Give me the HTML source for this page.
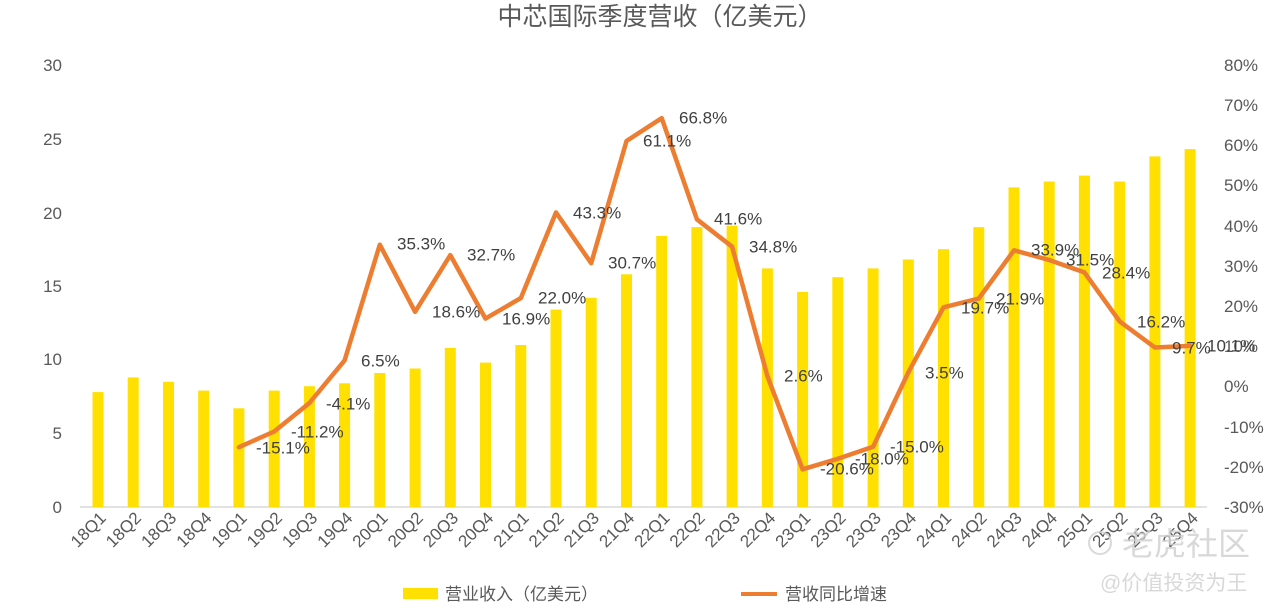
<!DOCTYPE html>
<html><head><meta charset="utf-8"><style>
html,body{margin:0;padding:0;background:#fff;}
svg{display:block;font-family:"Liberation Sans","Noto Sans CJK SC",sans-serif;}
</style></head><body>
<svg width="1281" height="612" viewBox="0 0 1281 612" xmlns="http://www.w3.org/2000/svg">
<text x="660" y="25" text-anchor="middle" font-size="25" fill="#595959">中芯国际季度营收（亿美元）</text>
<g font-size="17" fill="#595959" text-anchor="end">
<text x="62" y="513">0</text><text x="62" y="439">5</text><text x="62" y="365">10</text><text x="62" y="292">15</text><text x="62" y="219">20</text><text x="62" y="145">25</text><text x="62" y="71">30</text>
</g>
<g font-size="17" fill="#595959" text-anchor="start">
<text x="1224" y="71">80%</text><text x="1224" y="111">70%</text><text x="1224" y="151">60%</text><text x="1224" y="191">50%</text><text x="1224" y="232">40%</text><text x="1224" y="272">30%</text><text x="1224" y="312">20%</text><text x="1224" y="352">10%</text><text x="1224" y="392">0%</text><text x="1224" y="433">-10%</text><text x="1224" y="473">-20%</text><text x="1224" y="513">-30%</text>
</g>
<line x1="80" y1="507" x2="1207" y2="507" stroke="#d9d9d9" stroke-width="1.5"/>
<g fill="#FFE000">
<rect x="92.5" y="392.1" width="11" height="114.9"/>
<rect x="127.7" y="377.4" width="11" height="129.6"/>
<rect x="163" y="381.8" width="11" height="125.2"/>
<rect x="198.2" y="390.6" width="11" height="116.4"/>
<rect x="233.4" y="408.3" width="11" height="98.7"/>
<rect x="268.7" y="390.6" width="11" height="116.4"/>
<rect x="303.9" y="386.2" width="11" height="120.8"/>
<rect x="339.1" y="383.3" width="11" height="123.7"/>
<rect x="374.3" y="373" width="11" height="134"/>
<rect x="409.6" y="368.5" width="11" height="138.5"/>
<rect x="444.8" y="347.9" width="11" height="159.1"/>
<rect x="480" y="362.6" width="11" height="144.4"/>
<rect x="515.3" y="345" width="11" height="162"/>
<rect x="550.5" y="309.6" width="11" height="197.4"/>
<rect x="585.7" y="297.8" width="11" height="209.2"/>
<rect x="621" y="274.3" width="11" height="232.7"/>
<rect x="656.2" y="236" width="11" height="271"/>
<rect x="691.4" y="227.1" width="11" height="279.9"/>
<rect x="726.6" y="225.7" width="11" height="281.3"/>
<rect x="761.9" y="268.4" width="11" height="238.6"/>
<rect x="797.1" y="291.9" width="11" height="215.1"/>
<rect x="832.3" y="277.2" width="11" height="229.8"/>
<rect x="867.6" y="268.4" width="11" height="238.6"/>
<rect x="902.8" y="259.5" width="11" height="247.5"/>
<rect x="938" y="249.2" width="11" height="257.8"/>
<rect x="973.3" y="227.1" width="11" height="279.9"/>
<rect x="1008.5" y="187.4" width="11" height="319.6"/>
<rect x="1043.7" y="181.5" width="11" height="325.5"/>
<rect x="1078.9" y="175.6" width="11" height="331.4"/>
<rect x="1114.2" y="181.5" width="11" height="325.5"/>
<rect x="1149.4" y="156.4" width="11" height="350.6"/>
<rect x="1184.6" y="149.1" width="11" height="357.9"/>
</g>
<polyline fill="none" stroke="#ED7D31" stroke-width="4.5" stroke-linejoin="round" stroke-linecap="round" points="238.9,447.2 274.2,431.5 309.4,403 344.6,360.4 379.8,244.7 415.1,311.8 450.3,255.1 485.5,318.6 520.8,298.1 556,212.5 591.2,263.2 626.5,141 661.7,118.1 696.9,219.3 732.1,246.7 767.4,376.1 802.6,469.3 837.8,458.8 873.1,446.8 908.3,372.4 943.5,307.3 978.8,298.5 1014,250.3 1049.2,260 1084.4,272.4 1119.7,321.4 1154.9,347.5 1190.1,345.9"/>
<g font-size="17" fill="#404040" dominant-baseline="middle">
<text x="256" y="449">-15.1%</text>
<text x="291" y="433">-11.2%</text>
<text x="326" y="405">-4.1%</text>
<text x="361" y="362">6.5%</text>
<text x="397" y="245">35.3%</text>
<text x="432" y="313">18.6%</text>
<text x="467" y="256">32.7%</text>
<text x="502" y="320">16.9%</text>
<text x="538" y="299">22.0%</text>
<text x="573" y="214">43.3%</text>
<text x="608" y="264">30.7%</text>
<text x="643" y="142">61.1%</text>
<text x="679" y="119">66.8%</text>
<text x="714" y="220">41.6%</text>
<text x="749" y="248">34.8%</text>
<text x="784" y="377">2.6%</text>
<text x="820" y="470">-20.6%</text>
<text x="855" y="460">-18.0%</text>
<text x="890" y="448">-15.0%</text>
<text x="925" y="374">3.5%</text>
<text x="961" y="309">19.7%</text>
<text x="996" y="300">21.9%</text>
<text x="1031" y="251">33.9%</text>
<text x="1066" y="261">31.5%</text>
<text x="1102" y="274">28.4%</text>
<text x="1137" y="323">16.2%</text>
<text x="1172" y="349">9.7%</text>
<text x="1207" y="347">10.1%</text>
</g>
<g font-size="17" fill="#595959" text-anchor="end">
<text transform="translate(107,519) rotate(-45)">18Q1</text>
<text transform="translate(142.2,519) rotate(-45)">18Q2</text>
<text transform="translate(177.5,519) rotate(-45)">18Q3</text>
<text transform="translate(212.7,519) rotate(-45)">18Q4</text>
<text transform="translate(247.9,519) rotate(-45)">19Q1</text>
<text transform="translate(283.2,519) rotate(-45)">19Q2</text>
<text transform="translate(318.4,519) rotate(-45)">19Q3</text>
<text transform="translate(353.6,519) rotate(-45)">19Q4</text>
<text transform="translate(388.8,519) rotate(-45)">20Q1</text>
<text transform="translate(424.1,519) rotate(-45)">20Q2</text>
<text transform="translate(459.3,519) rotate(-45)">20Q3</text>
<text transform="translate(494.5,519) rotate(-45)">20Q4</text>
<text transform="translate(529.8,519) rotate(-45)">21Q1</text>
<text transform="translate(565,519) rotate(-45)">21Q2</text>
<text transform="translate(600.2,519) rotate(-45)">21Q3</text>
<text transform="translate(635.5,519) rotate(-45)">21Q4</text>
<text transform="translate(670.7,519) rotate(-45)">22Q1</text>
<text transform="translate(705.9,519) rotate(-45)">22Q2</text>
<text transform="translate(741.1,519) rotate(-45)">22Q3</text>
<text transform="translate(776.4,519) rotate(-45)">22Q4</text>
<text transform="translate(811.6,519) rotate(-45)">23Q1</text>
<text transform="translate(846.8,519) rotate(-45)">23Q2</text>
<text transform="translate(882.1,519) rotate(-45)">23Q3</text>
<text transform="translate(917.3,519) rotate(-45)">23Q4</text>
<text transform="translate(952.5,519) rotate(-45)">24Q1</text>
<text transform="translate(987.8,519) rotate(-45)">24Q2</text>
<text transform="translate(1023,519) rotate(-45)">24Q3</text>
<text transform="translate(1058.2,519) rotate(-45)">24Q4</text>
<text transform="translate(1093.4,519) rotate(-45)">25Q1</text>
<text transform="translate(1128.7,519) rotate(-45)">25Q2</text>
<text transform="translate(1163.9,519) rotate(-45)">25Q3</text>
<text transform="translate(1199.1,519) rotate(-45)">25Q4</text>
</g>
<g opacity="0.8">
<circle cx="1100" cy="543" r="11" fill="none" stroke="#d0d0d0" stroke-width="2"/>
<text x="1122" y="555" font-size="32" fill="#cfcfcf">老虎社区</text>
<text x="1100" y="590" font-size="21" fill="#cfcfcf">@价值投资为王</text>
</g>
<rect x="403" y="588" width="35" height="11" fill="#FFE000"/>
<text x="445" y="600" font-size="17" fill="#595959">营业收入（亿美元）</text>
<line x1="741" y1="594" x2="777" y2="594" stroke="#ED7D31" stroke-width="4"/>
<text x="785" y="600" font-size="17" fill="#595959">营收同比增速</text>
</svg>
</body></html>
